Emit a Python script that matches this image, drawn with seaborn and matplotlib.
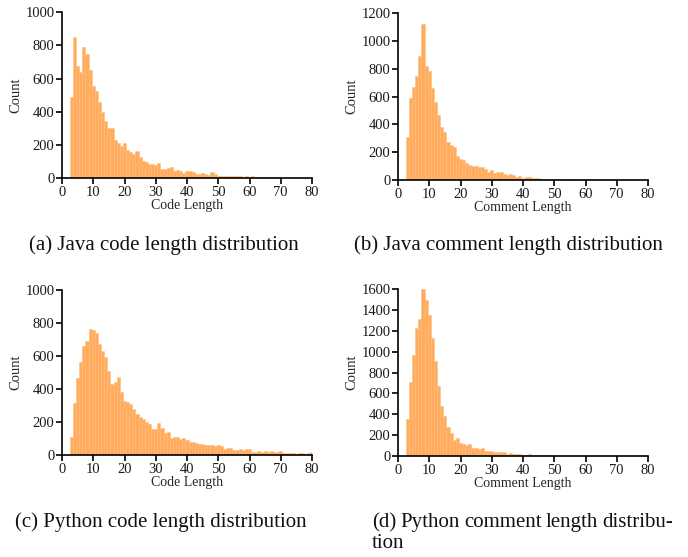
import numpy as np
import pandas as pd
import matplotlib
matplotlib.use('Agg')
import matplotlib.pyplot as plt
import seaborn as sns

# Token lengths (integer bins) and counts
lengths = list(range(3, 81))

java_code = [487, 850, 675, 640, 790, 748, 652, 557, 525, 461, 396, 346, 302, 300, 230, 210,
             195, 210, 170, 155, 145, 160, 125, 100, 97, 85, 85, 80, 90, 55, 55, 58,
             65, 40, 50, 40, 30, 45, 40, 38, 25, 25, 30, 25, 20, 35, 25, 15,
             12, 10, 12, 15, 10, 15, 15, 8, 12, 8, 12, 5, 5, 8, 5, 6,
             4, 4, 4, 4, 3, 3, 3, 4, 3, 3, 3, 3, 3, 3]

java_comment = [310, 590, 670, 750, 890, 1120, 820, 785, 665, 565, 468, 384, 348, 270, 250, 240,
                175, 150, 145, 125, 105, 100, 100, 90, 90, 80, 60, 70, 50, 60, 55, 40,
                35, 40, 35, 25, 30, 15, 20, 20, 15, 12, 12, 10, 8, 8, 8, 6,
                5, 5, 5, 8, 10, 5, 4, 4, 5, 8, 4, 3, 3, 3, 3, 3,
                3, 3, 3, 3, 3, 3, 3, 2, 2, 2, 2, 2, 2, 2]

python_code = [110, 314, 467, 563, 658, 690, 760, 756, 736, 672, 628, 592, 511, 433, 445, 475,
               380, 330, 324, 308, 282, 250, 229, 217, 203, 189, 159, 159, 193, 167, 137, 141,
               103, 113, 110, 97, 103, 95, 80, 80, 75, 70, 70, 65, 60, 60, 55, 60,
               55, 40, 45, 45, 30, 35, 40, 35, 38, 40, 20, 20, 25, 20, 25, 20,
               25, 22, 20, 25, 15, 12, 15, 15, 10, 12, 15, 10, 12, 20]

python_comment = [355, 707, 966, 1229, 1315, 1600, 1498, 1357, 1136, 912, 672, 480, 384, 278, 224, 154,
                  173, 125, 115, 105, 115, 75, 75, 65, 75, 45, 45, 50, 35, 35, 40, 35,
                  15, 25, 20, 20, 20, 10, 12, 20, 10, 8, 6, 5, 5, 6, 5, 5,
                  4, 4, 4, 4, 4, 3, 3, 3, 3, 3, 3, 3, 3, 3, 3, 3,
                  3, 3, 3, 3, 2, 2, 2, 2, 2, 2, 2, 2, 2, 2]

panels = [
    (java_code, 'Code Length', 1000, '(a) Java code length distribution'),
    (java_comment, 'Comment Length', 1200, '(b) Java comment length distribution'),
    (python_code, 'Code Length', 1000, '(c) Python code length distribution'),
    (python_comment, 'Comment Length', 1600, '(d) Python comment length distribu-'),
]

sns.set_style('ticks')
plt.rcParams['font.family'] = ['Liberation Serif', 'DejaVu Serif']

W, H = 688, 557
fig = plt.figure(figsize=(W / 100, H / 100), dpi=100)

# axes boxes in pixels: left, top, right, bottom
boxes = [(62, 12.3, 312, 178), (398, 13.3, 648, 180),
         (62, 289.7, 312, 455.3), (398, 289.3, 648, 456)]

for (counts, xlabel, ymax, caption), (l, t, r, b) in zip(panels, boxes):
    ax = fig.add_axes([l / W, 1 - b / H, (r - l) / W, (b - t) / H])
    df = pd.DataFrame({'length': lengths, 'count': counts})
    sns.histplot(data=df, x='length', weights='count', discrete=True, ax=ax,
                 color='#FF9533', alpha=0.78, edgecolor='#FFBE7A', linewidth=0.4)
    ax.set_xlim(0, 80)
    ax.set_ylim(0, ymax)
    ax.set_xticks(range(0, 81, 10))
    ax.set_yticks(range(0, ymax + 1, 200))
    ax.set_xlabel(xlabel, fontsize=10, labelpad=0)
    ax.set_ylabel('Count', fontsize=10.5, labelpad=2)
    ax.tick_params(axis='both', labelsize=10.5, length=4, width=1.2, pad=1.5,
                   color='black', labelcolor='#1a1a1a')
    for s in ['top', 'right']:
        ax.spines[s].set_visible(False)
    for s in ['left', 'bottom']:
        ax.spines[s].set_linewidth(1.2)
        ax.spines[s].set_color('black')

# captions (baseline aligned)
cap_kw = dict(fontsize=15, color='#111111', va='baseline')
fig.text(164 / W, 1 - 250 / H, panels[0][3], ha='center', **cap_kw)
fig.text(508 / W, 1 - 250 / H, panels[1][3], ha='center', **cap_kw)
fig.text(161 / W, 1 - 527 / H, panels[2][3], ha='center', **cap_kw)

# justified two-line caption for (d)
words = panels[3][3].split(' ')
x0, x1 = 372, 673
fig.canvas.draw()
renderer = fig.canvas.get_renderer()
items = [fig.text(0, 1 - 527 / H, w, ha='left', **cap_kw) for w in words]
widths = [it.get_window_extent(renderer).width for it in items]
gap = (x1 - x0 - sum(widths)) / (len(words) - 1)
x = x0
for it, w in zip(items, widths):
    it.set_x(x / W)
    x += w + gap
fig.text(x0 / W, 1 - 548 / H, 'tion', ha='left', **cap_kw)

fig.savefig('out.png', dpi=100)
